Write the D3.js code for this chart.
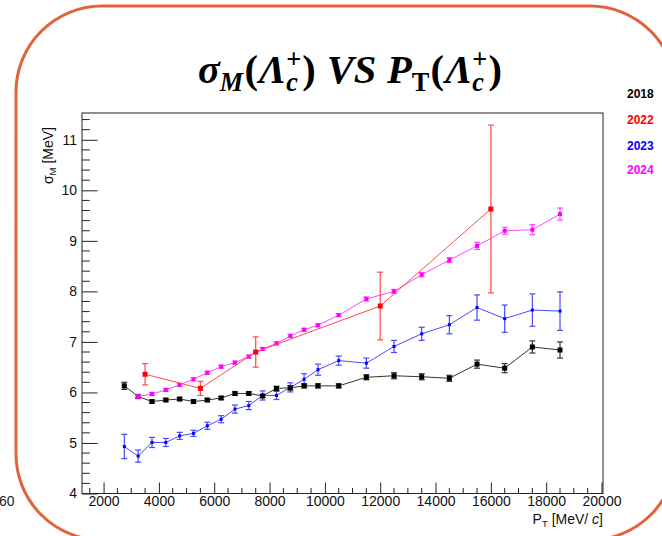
<!DOCTYPE html>
<html>
<head>
<meta charset="utf-8">
<script src="https://cdn.jsdelivr.net/npm/d3@7"></script>
<style>
  html, body { margin: 0; padding: 0; background: #fff; }
  svg { display: block; }
</style>
</head>
<body>
<script>
// Transverse-momentum bins (MeV/c) and mass resolution (MeV) per data-taking year
const pt2018 = [2750, 3250, 3750, 4250, 4750, 5250, 5750, 6250, 6750, 7250, 7750, 8250, 8750, 9250, 9750,
                10500, 11500, 12500, 13500, 14500, 15500, 16500, 17500, 18500];
const sigma2018 = [6.13, 5.92, 5.82, 5.85, 5.87, 5.82, 5.85, 5.89, 5.98, 5.98, 5.93, 6.08, 6.09, 6.13, 6.13,
                   6.13, 6.30, 6.33, 6.31, 6.28, 6.56, 6.48, 6.90, 6.84];
const err2018 = [0.07, 0.04, 0.03, 0.03, 0.03, 0.03, 0.03, 0.03, 0.03, 0.03, 0.03, 0.04, 0.04, 0.04, 0.04,
                 0.04, 0.05, 0.06, 0.06, 0.06, 0.08, 0.09, 0.12, 0.16];

const pt2022 = [3500, 5500, 7500, 12000, 16000];
const sigma2022 = [6.36, 6.08, 6.80, 7.71, 9.63];
const err2022 = [0.21, 0.14, 0.30, 0.67, 1.66];

const pt2023 = [2750, 3250, 3750, 4250, 4750, 5250, 5750, 6250, 6750, 7250, 7750, 8250, 8750, 9250, 9750,
                10500, 11500, 12500, 13500, 14500, 15500, 16500, 17500, 18500];
const sigma2023 = [4.93, 4.74, 5.01, 5.01, 5.14, 5.19, 5.34, 5.47, 5.67, 5.74, 5.94, 5.94, 6.10, 6.26, 6.45,
                   6.63, 6.58, 6.91, 7.16, 7.34, 7.68, 7.46, 7.63, 7.61];
const err2023 = [0.24, 0.12, 0.10, 0.08, 0.07, 0.06, 0.07, 0.07, 0.08, 0.08, 0.09, 0.08, 0.09, 0.11, 0.11,
                 0.09, 0.10, 0.12, 0.13, 0.18, 0.25, 0.27, 0.32, 0.38];

const pt2024 = [3250, 3750, 4250, 4750, 5250, 5750, 6250, 6750, 7250, 7750, 8250, 8750, 9250, 9750,
                10500, 11500, 12500, 13500, 14500, 15500, 16500, 17500, 18500];
const sigma2024 = [5.92, 5.97, 6.05, 6.15, 6.26, 6.39, 6.51, 6.59, 6.71, 6.86, 6.97, 7.12, 7.24, 7.33,
                   7.53, 7.85, 8.00, 8.33, 8.62, 8.90, 9.20, 9.22, 9.53];
const err2024 = [0.03, 0.03, 0.03, 0.03, 0.03, 0.03, 0.03, 0.03, 0.03, 0.03, 0.03, 0.03, 0.03, 0.03,
                 0.03, 0.04, 0.04, 0.04, 0.05, 0.07, 0.07, 0.10, 0.12];

const years = ["2018", "2022", "2023", "2024"];
const xTickValues = [2000, 4000, 6000, 8000, 10000, 12000, 14000, 16000, 18000, 20000];
const yTickValues = [4, 5, 6, 7, 8, 9, 10, 11];

const W = 662, H = 536;
const frame = { left: 82, right: 603, top: 113, bottom: 493.5 };

const svg = d3.select("body").append("svg").attr("width", W).attr("height", H);

// Rounded orange outline around the whole figure
svg.append("rect")
  .attr("x", 16).attr("y", 6).attr("width", 660).attr("height", 534)
  .attr("rx", 86).attr("ry", 86)
  .attr("fill", "none").attr("stroke", "#e2623a").attr("stroke-width", 3);

// Stray label left over from a neighbouring panel
svg.append("text").attr("x", -1).attr("y", 506)
  .attr("font-family", "'Liberation Sans', Arial, sans-serif").attr("font-size", 14)
  .attr("fill", "#222").text("60");

const x = d3.scaleLinear().domain([1220, 20054]).range([frame.left, frame.right]);
const y = d3.scaleLinear().domain([4, 11.53]).range([frame.bottom, frame.top]);

const sans = "'Liberation Sans', Arial, Helvetica, sans-serif";

// Frame
svg.append("rect")
  .attr("x", frame.left).attr("y", frame.top)
  .attr("width", frame.right - frame.left).attr("height", frame.bottom - frame.top)
  .attr("fill", "none").attr("stroke", "#222").attr("stroke-width", 1);

// Axes (ticks point into the frame, ROOT style)
const xMajor = 11, xMinor = 5.5, yMajor = 15.6, yMinor = 7.8;
const xAxis = d3.axisBottom(x).tickValues(xTickValues).tickSize(-xMajor).tickPadding(3)
  .tickFormat(d3.format("d"));
const gx = svg.append("g").attr("transform", `translate(0,${frame.bottom})`).call(xAxis);
gx.select(".domain").remove();
gx.selectAll("line").attr("stroke", "#222");
gx.selectAll("text").attr("font-family", sans).attr("font-size", 14).attr("fill", "#111");

const xMinorVals = d3.range(1500, 20001, 500).filter(v => v % 2000 !== 0);
svg.append("g").selectAll("line").data(xMinorVals).join("line")
  .attr("x1", d => x(d)).attr("x2", d => x(d))
  .attr("y1", frame.bottom).attr("y2", frame.bottom - xMinor)
  .attr("stroke", "#222");

const yAxis = d3.axisLeft(y).tickValues(yTickValues).tickSize(-yMajor).tickPadding(4)
  .tickFormat(d3.format("d"));
const gy = svg.append("g").attr("transform", `translate(${frame.left},0)`).call(yAxis);
gy.select(".domain").remove();
gy.selectAll("line").attr("stroke", "#222");
gy.selectAll("text").attr("font-family", sans).attr("font-size", 14).attr("fill", "#111")
  .attr("dx", -1);

const yMinorVals = d3.range(4.2, 11.53, 0.2).filter(v => Math.abs(v - Math.round(v)) > 0.01);
svg.append("g").selectAll("line").data(yMinorVals).join("line")
  .attr("x1", frame.left).attr("x2", frame.left + yMinor)
  .attr("y1", d => y(d)).attr("y2", d => y(d))
  .attr("stroke", "#222");

// Axis titles
const xt = svg.append("text").attr("x", frame.right).attr("y", 524)
  .attr("text-anchor", "end").attr("font-family", sans).attr("font-size", 14).attr("fill", "#111");
xt.append("tspan").text("P");
xt.append("tspan").attr("font-size", 9.5).attr("dy", 3).text("T");
xt.append("tspan").attr("dy", -3).text(" [MeV/ ");
xt.append("tspan").attr("font-style", "italic").text("c");
xt.append("tspan").text("]");

const yt = svg.append("text")
  .attr("transform", `translate(53,127) rotate(-90)`)
  .attr("text-anchor", "end").attr("font-family", sans).attr("font-size", 14).attr("fill", "#111");
yt.append("tspan").text("σ");
yt.append("tspan").attr("font-size", 9.5).attr("dy", 3).text("M");
yt.append("tspan").attr("dy", -3).text(" [MeV]");

// Data series
const series = [
  { year: "2018", pt: pt2018, v: sigma2018, e: err2018, color: "#000000", line: "#333333", m: 5 },
  { year: "2022", pt: pt2022, v: sigma2022, e: err2022, color: "#ff0000", line: "#ff4a4a", m: 5 },
  { year: "2023", pt: pt2023, v: sigma2023, e: err2023, color: "#0000ff", line: "#4a4aff", m: 3 },
  { year: "2024", pt: pt2024, v: sigma2024, e: err2024, color: "#ff00ff", line: "#ff4aff", m: 4 }
];

const plot = svg.append("g");
const drawOrder = [series[2], series[0], series[3], series[1]];
drawOrder.forEach(s => {
  const pts = s.pt.map((p, i) => ({ p, v: s.v[i], e: s.e[i] }));
  const g = plot.append("g");
  g.append("path").datum(pts)
    .attr("d", d3.line().x(d => x(d.p)).y(d => y(d.v)))
    .attr("fill", "none").attr("stroke", s.line).attr("stroke-width", 1);
  const eb = g.append("g").attr("stroke", s.line).attr("stroke-width", 1.2);
  eb.selectAll(".bar").data(pts).join("line")
    .attr("x1", d => x(d.p)).attr("x2", d => x(d.p))
    .attr("y1", d => y(d.v - d.e)).attr("y2", d => y(d.v + d.e));
  eb.selectAll(".capHi").data(pts).join("line")
    .attr("x1", d => x(d.p) - 3).attr("x2", d => x(d.p) + 3)
    .attr("y1", d => y(d.v + d.e)).attr("y2", d => y(d.v + d.e));
  eb.selectAll(".capLo").data(pts).join("line")
    .attr("x1", d => x(d.p) - 3).attr("x2", d => x(d.p) + 3)
    .attr("y1", d => y(d.v - d.e)).attr("y2", d => y(d.v - d.e));
  g.selectAll(".mk").data(pts).join("rect")
    .attr("x", d => x(d.p) - s.m / 2).attr("y", d => y(d.v) - s.m / 2)
    .attr("width", s.m).attr("height", s.m).attr("fill", s.color);
});

// Year legend
const legendColors = { "2018": "#000000", "2022": "#ff0000", "2023": "#0000ff", "2024": "#ff00ff" };
const legendY = [98, 124, 149.5, 174];
svg.append("g").selectAll("text").data(years).join("text")
  .attr("x", 627).attr("y", (d, i) => legendY[i])
  .attr("font-family", sans).attr("font-weight", "bold").attr("font-size", 12)
  .attr("fill", d => legendColors[d]).text(d => d);

// Title: sigma_M(Lambda_c^+) VS P_T(Lambda_c^+), built as one text with positioned tspans
const serif = "'Liberation Serif', 'DejaVu Serif', serif";
const B = 34, S = 22;
const pieces = [
  { t: "σ", s: B, dy: 0, it: true },
  { t: "M", s: S, dy: 7, it: true, pad: 1 },
  { t: "(", s: B, dy: 0, it: false, pad: 1 },
  { t: "Λ", s: B, dy: 0, it: true },
  { t: "+", s: S, dy: -13, it: false, stackNext: true },
  { t: "c", s: S, dy: 7, it: true, pad: 1 },
  { t: ")", s: B, dy: 0, it: false, pad: 9 },
  { t: "VS", s: B, dy: 0, it: true, pad: 9 },
  { t: "P", s: B, dy: 0, it: true },
  { t: "T", s: S, dy: 7, it: false, pad: 1 },
  { t: "(", s: B, dy: 0, it: false, pad: 1 },
  { t: "Λ", s: B, dy: 0, it: true },
  { t: "+", s: S, dy: -13, it: false, stackNext: true },
  { t: "c", s: S, dy: 7, it: true, pad: 1 },
  { t: ")", s: B, dy: 0, it: false }
];
const probe = svg.append("text").attr("font-family", serif).attr("font-weight", "bold");
function widthOf(p) {
  probe.attr("font-size", p.s).attr("font-style", p.it ? "italic" : "normal").text(p.t);
  return probe.node().getComputedTextLength();
}
let cx = 0, stackStart = null, stackW = 0;
pieces.forEach(p => {
  const w = widthOf(p);
  if (p.stackNext) { p.x = cx; stackStart = cx; stackW = w; return; }
  if (stackStart !== null) {
    p.x = stackStart; cx = stackStart + Math.max(stackW, w) + (p.pad || 0); stackStart = null; return;
  }
  p.x = cx; cx += w + (p.pad || 0);
});
probe.remove();
const title = svg.append("text").attr("font-family", serif).attr("font-weight", "bold").attr("fill", "#000");
title.selectAll("tspan").data(pieces).join("tspan")
  .attr("x", d => d.x).attr("y", d => d.dy)
  .attr("font-size", d => d.s).attr("font-style", d => d.it ? "italic" : "normal")
  .text(d => d.t);
const bb = title.node().getBBox();
const k = 304 / bb.width;
title.attr("transform", `translate(${198 - bb.x * k},83) scale(${k})`);
</script>
</body>
</html>
